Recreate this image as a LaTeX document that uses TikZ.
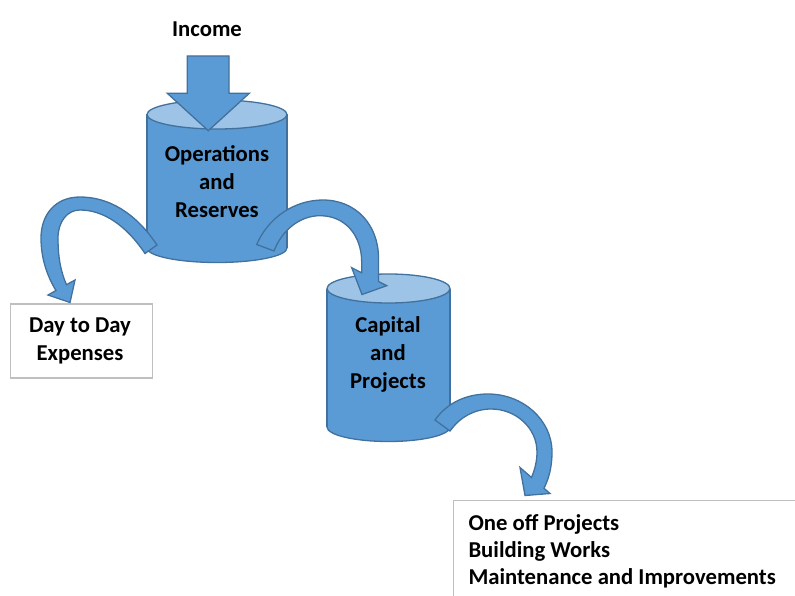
\documentclass[tikz,border=0pt]{standalone}
\usepackage{fontspec}
\setmainfont{Carlito}
\definecolor{cylblue}{HTML}{5B9BD5}
\definecolor{edgeblue}{HTML}{41719C}
\definecolor{toplight}{HTML}{9DC3E6}
\definecolor{boxgray}{HTML}{BFBFBF}
\begin{document}
\begin{tikzpicture}[x=1pt,y=-1pt,
  rim/.style={draw=edgeblue, line width=1.3pt},
  blockarrow/.style={fill=cylblue, draw=edgeblue, line width=1.3pt, line join=miter},
  lbl/.style={font=\bfseries\fontsize{22.7}{28}\selectfont, align=center, text=black, inner sep=0pt},
  boxlbl/.style={font=\bfseries\fontsize{22.7}{27.3}\selectfont, text=black, inner sep=0pt},
  plainbox/.style={draw=boxgray, line width=1.3pt, fill=white}]
\useasboundingbox (0,0) rectangle (795,596);
\clip (0,0) rectangle (795,596);

% Cylinder 1
\fill[cylblue] (217,248) ellipse [x radius=70, y radius=14.5];
\draw[rim] (217,248) ellipse [x radius=70, y radius=14.5];
\fill[cylblue] (147,114.5) rectangle (287,248);
\draw[rim] (147,114.5) -- (147,248) (287,114.5) -- (287,248);
\filldraw[rim, fill=toplight] (217,114.5) ellipse [x radius=70, y radius=14.5];

% Cylinder 2
\fill[cylblue] (388.5,427) ellipse [x radius=61.5, y radius=14.5];
\draw[rim] (388.5,427) ellipse [x radius=61.5, y radius=14.5];
\fill[cylblue] (327,288.5) rectangle (450,427);
\draw[rim] (327,288.5) -- (327,427) (450,288.5) -- (450,427);
\filldraw[rim, fill=toplight] (388.5,288.5) ellipse [x radius=61.5, y radius=14.5];

% Boxes
\node[plainbox, minimum width=141.7pt, minimum height=74pt, anchor=north west] (box1) at (10,303.3) {};
\node[boxlbl, align=center] (t1) at (80,341) {Day to Day\\Expenses};
\node[plainbox, minimum width=400pt, minimum height=150pt, anchor=north west] (box2) at (452.7,500) {};
\node[boxlbl, align=left, anchor=north west] (t2) at (468.3,514) {One off Projects\\Building Works\\Maintenance and Improvements};

% Income arrow
\filldraw[blockarrow] (187.3,56) -- (229,56) -- (229,93.3) -- (249.3,93.3) -- (208.3,130.7)
  -- (167.3,93.3) -- (187.3,93.3) -- cycle;

% Curved arrow 1
\filldraw[blockarrow] (157,245) .. controls (135,212) and (108,197) .. (80,197)
  .. controls (55,197) and (41,215) .. (41,238)
  .. controls (41,258) and (47,276) .. (56,290.5)
  -- (48,295) -- (70,302.5) -- (75,280) -- (66.5,284.7)
  .. controls (60,270) and (58,255) .. (58,238)
  .. controls (58,222) and (67,210) .. (80,210)
  .. controls (103,210) and (126,225) .. (145,253.5) -- cycle;

% Curved arrow 2
\filldraw[blockarrow] (256.7,244.5) .. controls (268,218) and (294,200) .. (323,200)
  .. controls (356,200) and (378.5,225) .. (378.5,258)
  -- (378.5,281.5) -- (386.7,285.7) -- (362,294.5) -- (351.7,267.7) -- (361.7,272.8)
  -- (361.7,262) .. controls (361.5,235) and (345,215.7) .. (320,215.7)
  .. controls (300,215.7) and (282,230) .. (274,251) -- cycle;

% Curved arrow 3
\filldraw[blockarrow] (435,420) .. controls (447,403) and (466,394) .. (488,394)
  .. controls (523,394) and (552,420) .. (552,452)
  .. controls (552,467) and (549,478) .. (544,488.3)
  -- (550,493.5) -- (525,495.5) -- (520,467.5) -- (531.5,477.5)
  .. controls (535,469) and (537,461) .. (537,452)
  .. controls (537,428) and (516,409) .. (491,409)
  .. controls (474,409) and (459,418) .. (450,431) -- cycle;

% Labels
\node[lbl] (income) at (207,29) {Income};
\node[lbl] (ops) at (217,181.5) {Operations\\and\\Reserves};
\node[lbl] (cap) at (388,354.5) {Capital\\and\\Projects};
\end{tikzpicture}
\end{document}
